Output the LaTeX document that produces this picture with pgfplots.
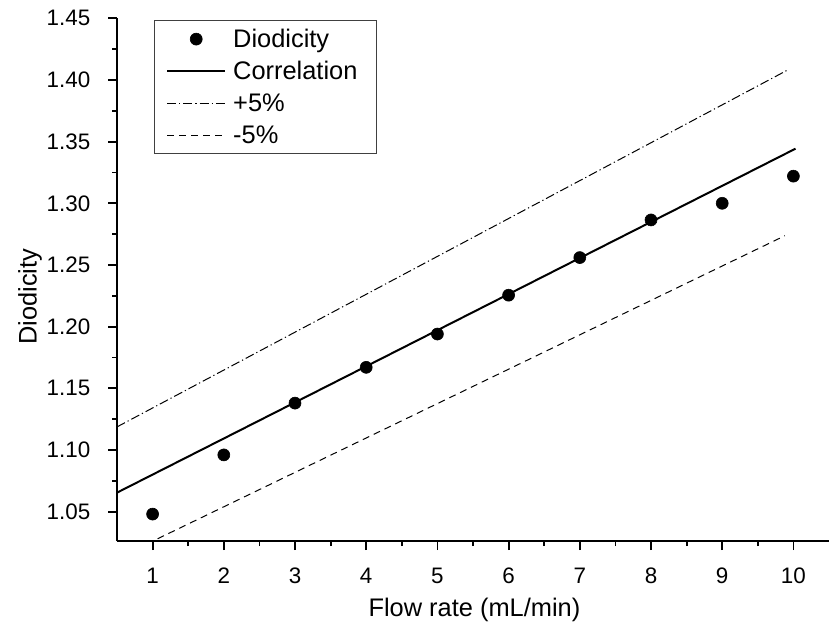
\documentclass[border=0pt]{standalone}
\usepackage{pgfplots}
\pgfplotsset{compat=1.18}
\usepackage{fontspec}
\setmainfont{Liberation Sans}
\begin{document}
\begin{tikzpicture}
\useasboundingbox (-58.5pt,-42pt) rectangle (358pt,270.5pt);
\begin{axis}[
  scale only axis,
  width=356pt, height=261.35pt,
  xmin=0.5, xmax=10.5, ymin=1.0262, ymax=1.45,
  axis x line*=bottom, axis y line*=left,
  axis line style={line width=1.1pt},
  every tick/.style={line width=0.9pt, black},
  tick align=outside,
  major tick length=4.5pt, minor tick length=2.5pt,
  xtick={1,2,...,10}, minor x tick num=1,
  ytick={1.05,1.10,...,1.46}, minor y tick num=1,
  /pgf/number format/assume math mode=true,
  yticklabel style={/pgf/number format/fixed, /pgf/number format/fixed zerofill, /pgf/number format/precision=2},
  xticklabel style={font=\fontsize{11.2}{13}\selectfont, anchor=base, yshift=-16.75pt},
  yticklabel style={font=\fontsize{11.2}{13}\selectfont, anchor=east, xshift=-5.3pt},
  xlabel={Flow rate (mL/min)},
  ylabel={Diodicity},
  every axis x label/.style={at={(axis description cs:0.502,0)}, anchor=base, yshift=-37.85pt, font=\fontsize{12.7}{15}\selectfont},
  every axis y label/.style={at={(axis description cs:-0.1222,0.4674)}, rotate=90, anchor=center, font=\fontsize{12.7}{15}\selectfont},
  legend image code/.code={\draw[mark repeat=2,mark phase=2,#1] plot coordinates {(0pt,0pt) (14.5pt,0pt) (29pt,0pt)};},
  legend cell align=left,
  legend style={at={(axis description cs:0.052,0.9967)}, anchor=north west,
    draw=black!75, line width=0.5pt, fill=white,
    inner xsep=5.85pt, inner ysep=1.3pt, row sep=0pt,
    font=\fontsize{12.7}{15}\selectfont,
    nodes={inner xsep=3.5pt, inner ysep=0pt, text height=12.4pt, text depth=3.6pt}},
]
\addplot[only marks, mark=*, mark size=3pt, black, mark options={fill=black, line width=0.3pt}]
  coordinates {(1,1.048) (2,1.096) (3,1.138) (4,1.167) (5,1.194) (6,1.2255) (7,1.256) (8,1.2865) (9,1.300) (10,1.322)};
\addlegendentry{Diodicity}
\addplot[black, line width=1pt, no marks]
  coordinates {(0.5,1.0654) (10.03,1.3443)};
\addlegendentry{Correlation}
\addplot[black, line width=0.5pt, no marks, dash pattern=on 4.5pt off 1.5pt on 0.6pt off 1.5pt]
  coordinates {(0.5,1.1187) (9.94,1.4087)};
\addlegendentry{+5\%}
\addplot[black, line width=0.5pt, no marks, dash pattern=on 3.5pt off 2.5pt]
  coordinates {(1.07,1.0280) (9.88,1.2737)};
\addlegendentry{-5\%}
\end{axis}
\end{tikzpicture}
\end{document}
